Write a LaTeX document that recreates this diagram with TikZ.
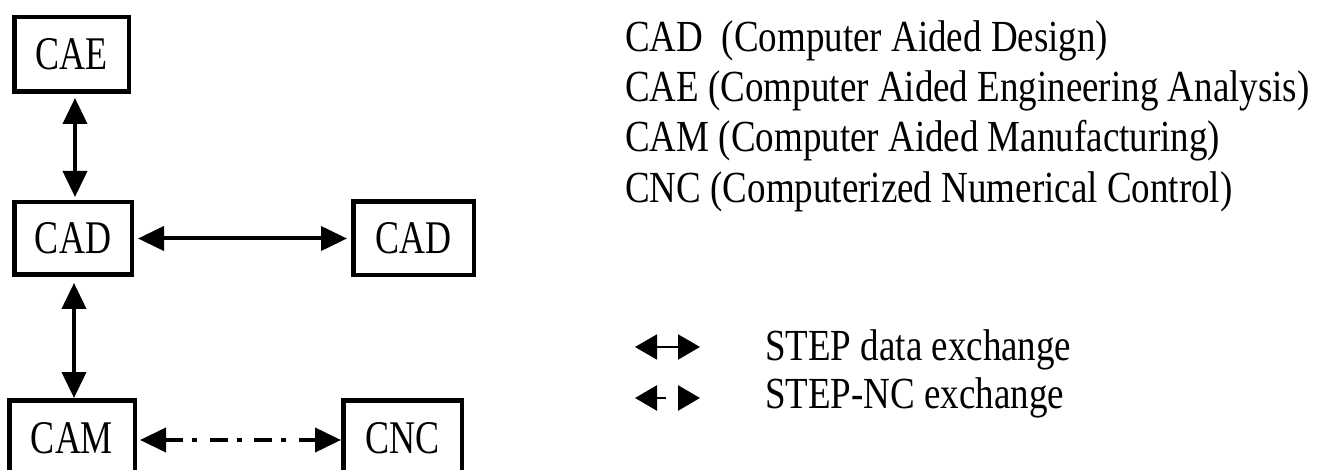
\documentclass[tikz,border=0pt]{standalone}
\usepackage{fontspec}
\setmainfont{Liberation Serif}
\usetikzlibrary{arrows.meta}
% text drawn slightly taller than wide
\newcommand\tallText[2][1.25]{\scalebox{1}[#1]{#2}}

\begin{document}
\begin{tikzpicture}[x=1pt,y=-1pt,
  box/.style={draw, line width=4.5pt, inner sep=0pt, font=\fontsize{36}{40}\selectfont},
  link/.style={line width=4pt,
    {Triangle[length=26pt,width=24pt]}-{Triangle[length=26pt,width=24pt]}},
  ncdash/.style={dash pattern=on 18pt off 9pt on 5pt off 12.5pt},
  legend/.style={anchor=base west, inner sep=0pt, font=\fontsize{37}{44}\selectfont},
  keyline/.style={line width=2pt,
    {Triangle[length=22pt,width=25pt]}-{Triangle[length=22pt,width=25pt]}}
]
\useasboundingbox (0,0) rectangle (1331,470);
\clip (0,0) rectangle (1331,470);

% system boxes
\node[box, minimum width=114.5pt, minimum height=74.5pt] (cae)  at (71.5,54.5) {\tallText[1.3]{CAE}};
\node[box, minimum width=117.5pt, minimum height=72.5pt] (cadl) at (73,238.5)  {\tallText[1.3]{CAD}};
\node[box, minimum width=120.5pt, minimum height=73.5pt] (cadr) at (413.5,238.5) {\tallText[1.3]{CAD}};
\node[box, minimum width=125.5pt, minimum height=75.5pt] (cam)  at (72,438)    {\tallText[1.3]{CAM}};
\node[box, minimum width=118.5pt, minimum height=75.5pt] (cnc)  at (402.5,438) {\tallText[1.3]{CNC}};

% STEP exchanges
\draw[link, shorten <=4pt, shorten >=3pt] ([xshift=3.5pt]cae.south) -- ([xshift=2pt]cadl.north);
\draw[link, shorten <=4pt, shorten >=4pt] (cadl.east) -- (cadr.west);
\draw[link, shorten <=6pt] ([xshift=1pt]cadl.south) -- ([xshift=2pt]cam.north);
% STEP-NC exchange
\draw[link, ncdash, shorten <=3pt] ([yshift=-2pt]cam.east) -- ([yshift=-2pt]cnc.west);

% abbreviations
\node[legend] (lcad) at (625,52)  {\tallText[1.2]{CAD\ \ (Computer Aided Design)}};
\node[legend] (lcae) at (625,102) {\tallText[1.2]{CAE (Computer Aided Engineering Analysis)}};
\node[legend] (lcam) at (625,152) {\tallText[1.2]{CAM (Computer Aided Manufacturing)}};
\node[legend] (lcnc) at (625,203) {\tallText[1.2]{CNC (Computerized Numerical Control)}};

% key
\coordinate (k1a) at (635,347);
\coordinate (k1b) at (700,347);
\draw[keyline] (k1a) -- (k1b);
\node[legend] (kstep) at (765,360) {\tallText[1.2]{STEP data exchange}};
\coordinate (k2a) at (635,398);
\coordinate (k2b) at (700,398);
\draw[keyline, line width=2.5pt, dash pattern=on 10pt off 20pt] (k2a) -- (k2b);
\node[legend] (kstepnc) at (765,408) {\tallText[1.2]{STEP-NC exchange}};
\end{tikzpicture}
\end{document}
